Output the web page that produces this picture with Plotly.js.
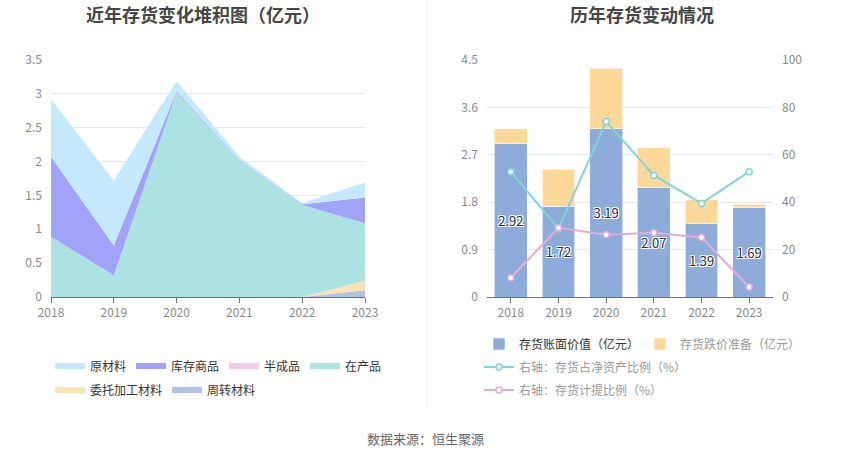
<!DOCTYPE html>
<html>
<head>
<meta charset="utf-8">
<script src="https://cdn.plot.ly/plotly-3.0.1.min.js"></script>
<style>html,body{margin:0;padding:0;background:#fff}#c{width:850px;height:459px}</style>
</head>
<body>
<div id="c"></div>
<script>
// ---- data ----
const years = ['2018', '2019', '2020', '2021', '2022', '2023'];
// left chart: inventory composition (亿元)
const rawMaterial = [0.85, 0.96, 0.15, 0.05, 0.02, 0.22];   // 原材料
const goodsInStock = [1.18, 0.44, 0.02, 0.01, 0.01, 0.38];  // 库存商品
const semiFinished = [0, 0, 0, 0, 0, 0];                    // 半成品
const workInProgress = [0.89, 0.32, 3.02, 2.01, 1.36, 0.85];// 在产品
const consignedMaterial = [0, 0, 0, 0, 0, 0.14];            // 委托加工材料
const turnoverMaterial = [0, 0, 0, 0, 0, 0.10];             // 周转材料
// right chart
const bookValue = [2.92, 1.72, 3.19, 2.07, 1.39, 1.69];     // 存货账面价值（亿元）
const provision = [0.27, 0.71, 1.15, 0.76, 0.46, 0.07];     // 存货跌价准备（亿元）
const ratioNetAssets = [52.9, 28.8, 74.0, 51.3, 39.5, 52.9];// 存货占净资产比例（%）
const provisionRatio = [8.1, 29.2, 26.3, 27.1, 25.1, 4.2];  // 存货计提比例（%）
const bookLabels = ['2.92', '1.72', '3.19', '2.07', '1.39', '1.69'];

const FONT = '"Noto Sans CJK SC", "Noto Sans", sans-serif';
const H = 459, W = 850;
const py = v => 1 - v / H;
const px = v => v / W;

function area(name, y, fill, legend) {
  return {type: 'scatter', x: years, y: y, name: name, stackgroup: 'one', mode: 'none',
          fillcolor: fill, xaxis: 'x', yaxis: 'y', legend: legend, hoverinfo: 'skip'};
}

const traces = [
  area('周转材料', turnoverMaterial, '#aec3e7', 'legend2'),
  area('委托加工材料', consignedMaterial, '#fde3b1', 'legend2'),
  area('在产品', workInProgress, '#ade2e3', 'legend'),
  area('半成品', semiFinished, '#efcde5', 'legend'),
  area('库存商品', goodsInStock, '#a2a3f8', 'legend'),
  area('原材料', rawMaterial, '#c4e9fb', 'legend'),
  {type: 'bar', x: years, y: bookValue, name: '存货账面价值（亿元）', xaxis: 'x2', yaxis: 'y2',
   marker: {color: '#8eacda', line: {color: 'rgba(255,255,255,0.6)', width: 1}}, width: 0.69,
   text: bookLabels, textposition: 'inside', insidetextanchor: 'middle', cliponaxis: false,
   textfont: {family: FONT, size: 13, color: '#333', shadow: '1px 1px 0 #fff, -1px -1px 0 #fff, 1px -1px 0 #fff, -1px 1px 0 #fff'},
   legend: 'legend3', hoverinfo: 'skip'},
  {type: 'bar', x: years, y: provision, name: '存货跌价准备（亿元）', xaxis: 'x2', yaxis: 'y2',
   marker: {color: '#fed898', line: {color: 'rgba(255,255,255,0.6)', width: 1}}, width: 0.69,
   legend: 'legend4', hoverinfo: 'skip'},
  {type: 'scatter', mode: 'lines+markers', x: years, y: ratioNetAssets, name: '右轴：存货占净资产比例（%）',
   xaxis: 'x2', yaxis: 'y3', line: {color: '#7fd5d8', width: 2},
   marker: {symbol: 'circle', size: 6, color: '#fff', line: {color: '#7fd5d8', width: 1.5}},
   legend: 'legend5', hoverinfo: 'skip'},
  {type: 'scatter', mode: 'lines+markers', x: years, y: provisionRatio, name: '右轴：存货计提比例（%）',
   xaxis: 'x2', yaxis: 'y3', line: {color: '#e2acd8', width: 2},
   marker: {symbol: 'circle', size: 6, color: '#fff', line: {color: '#e2acd8', width: 1.5}},
   legend: 'legend6', hoverinfo: 'skip'}
];

const tickFont = {family: FONT, size: 12, color: '#8a8a8a'};
const gridColor = '#e3e8f3';
const yDom = [py(297), py(60)];
const legBase = {xanchor: 'left', yanchor: 'middle', itemwidth: 30, bgcolor: 'rgba(0,0,0,0)'};

const layout = {
  width: W, height: H, margin: {l: 0, r: 0, t: 0, b: 0},
  paper_bgcolor: '#fff', plot_bgcolor: 'rgba(0,0,0,0)',
  font: {family: FONT},
  barmode: 'stack',
  showlegend: true,
  xaxis: {domain: [px(51), px(365)], type: 'category', range: [0, 5], anchor: 'y',
          showgrid: false, showline: true, linecolor: '#6e7079', ticks: 'outside', ticklen: 5,
          tickcolor: '#6e7079', tickfont: tickFont, zeroline: false},
  yaxis: {domain: yDom, range: [0, 3.5], dtick: 0.5, tick0: 0, anchor: 'x', showline: false,
          gridcolor: gridColor, tickfont: tickFont, zeroline: false, ticks: '', ticklabelstandoff: 8},
  xaxis2: {domain: [px(487), px(773)], type: 'category', range: [-0.5, 5.5], anchor: 'y2',
           showgrid: false, showline: true, linecolor: '#6e7079', ticks: 'outside', ticklen: 5,
           tickcolor: '#6e7079', tickfont: tickFont, zeroline: false},
  yaxis2: {domain: yDom, range: [0, 4.5], dtick: 0.9, tick0: 0, anchor: 'x2', showline: false,
           gridcolor: gridColor, tickfont: tickFont, zeroline: false, ticks: '', ticklabelstandoff: 8},
  yaxis3: {domain: yDom, range: [0, 100], dtick: 20, tick0: 0, anchor: 'x2', overlaying: 'y2', side: 'right',
           showgrid: false, showline: false, tickfont: tickFont, zeroline: false, ticks: '', ticklabelstandoff: 8},
  legend: Object.assign({orientation: 'h', x: px(50), y: py(366), traceorder: 'reversed',
           font: {family: FONT, size: 12, color: '#333'}}, legBase),
  legend2: Object.assign({orientation: 'h', x: px(50), y: py(390), traceorder: 'reversed',
            font: {family: FONT, size: 12, color: '#333'}}, legBase),
  legend3: Object.assign({orientation: 'h', x: px(479), y: py(344),
            font: {family: FONT, size: 12, color: '#333'}}, legBase),
  legend4: Object.assign({orientation: 'h', x: px(640), y: py(344),
            font: {family: FONT, size: 12, color: '#999'}}, legBase),
  legend5: Object.assign({orientation: 'h', x: px(479), y: py(367),
            font: {family: FONT, size: 12, color: '#999'}}, legBase),
  legend6: Object.assign({orientation: 'h', x: px(479), y: py(390),
            font: {family: FONT, size: 12, color: '#999'}}, legBase),
  annotations: [
    {text: '<b>近年存货变化堆积图（亿元）</b>', xref: 'paper', yref: 'paper', x: px(203), y: py(14),
     xanchor: 'center', yanchor: 'middle', showarrow: false, font: {family: FONT, size: 18, color: '#464646'}},
    {text: '<b>历年存货变动情况</b>', xref: 'paper', yref: 'paper', x: px(642), y: py(14),
     xanchor: 'center', yanchor: 'middle', showarrow: false, font: {family: FONT, size: 18, color: '#464646'}},
    {text: '数据来源：恒生聚源', xref: 'paper', yref: 'paper', x: px(425), y: py(438),
     xanchor: 'center', yanchor: 'middle', showarrow: false, font: {family: FONT, size: 13, color: '#666'}}
  ],
  shapes: [
    {type: 'line', xref: 'paper', yref: 'paper', x0: px(427), x1: px(427), y0: 1, y1: py(405),
     line: {color: '#eeeeee', width: 1}}
  ]
};

Plotly.newPlot('c', traces, layout, {displayModeBar: false, staticPlot: true});
</script>
</body>
</html>
